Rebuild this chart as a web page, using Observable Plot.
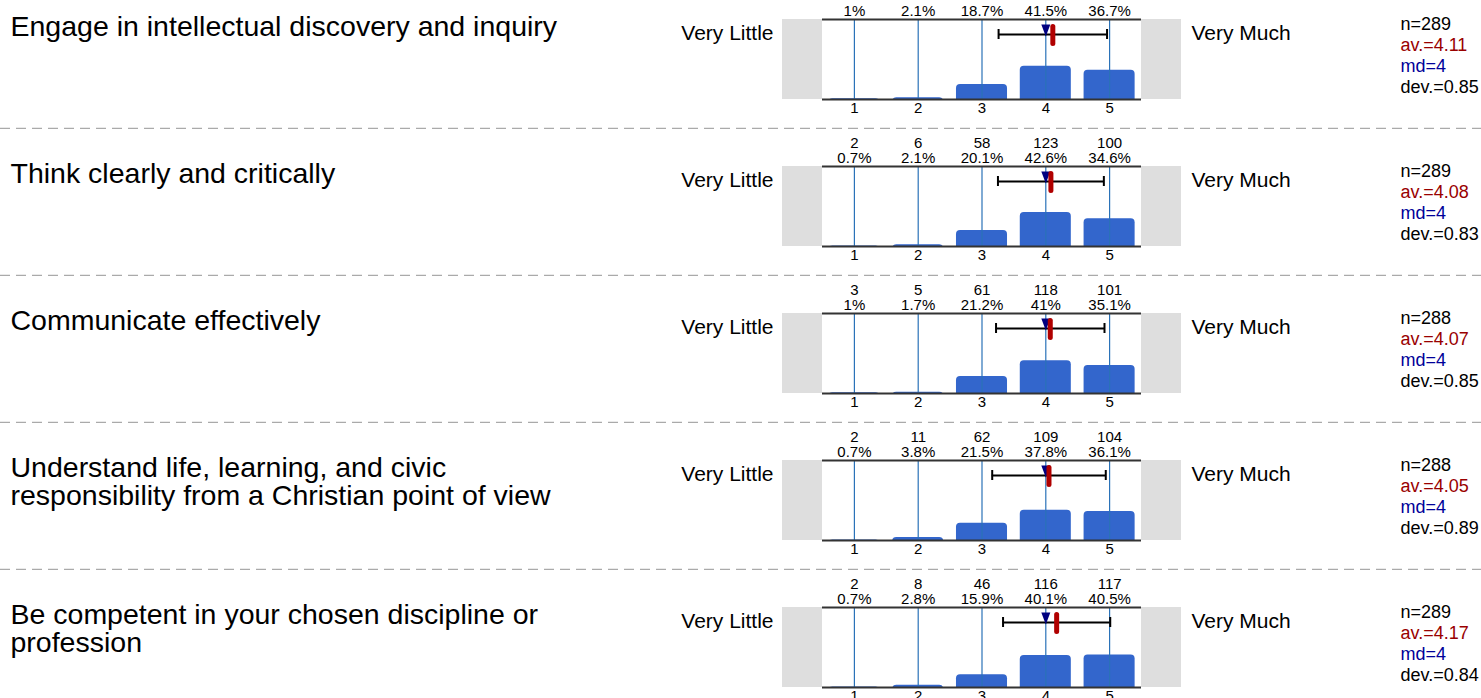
<!DOCTYPE html>
<html>
<head>
<meta charset="utf-8">
<script src="https://cdn.jsdelivr.net/npm/d3@7"></script>
<script src="https://cdn.jsdelivr.net/npm/@observablehq/plot@0.6"></script>
<style>
  html, body { margin: 0; padding: 0; background: #fff; overflow: hidden; }
  #chart { margin-top: -18px; }
  #chart svg { display: block; }
</style>
</head>
<body>
<div id="chart"></div>
<script>
// ---- data ----
const items = [
  "Engage in intellectual discovery and inquiry",
  "Think clearly and critically",
  "Communicate effectively",
  "Understand life, learning, and civic\nresponsibility from a Christian point of view",
  "Be competent in your chosen discipline or\nprofession"
];
const categories = [1, 2, 3, 4, 5];
// first row's counts are cut off in the reference picture
const counts = [
  [null, null, null, null, null],
  [2, 6, 58, 123, 100],
  [3, 5, 61, 118, 101],
  [2, 11, 62, 109, 104],
  [2, 8, 46, 116, 117]
];
const percents = [
  [1, 2.1, 18.7, 41.5, 36.7],
  [0.7, 2.1, 20.1, 42.6, 34.6],
  [1, 1.7, 21.2, 41, 35.1],
  [0.7, 3.8, 21.5, 37.8, 36.1],
  [0.7, 2.8, 15.9, 40.1, 40.5]
];
const nValues = [289, 289, 288, 288, 289];
const averages = [4.11, 4.08, 4.07, 4.05, 4.17];
const medians = [4, 4, 4, 4, 4];
const deviations = [0.85, 0.83, 0.85, 0.89, 0.84];
const leftLabel = "Very Little";
const rightLabel = "Very Much";

// ---- drawing ----
const font = "'Liberation Sans', Arial, sans-serif";
const triangleDown = {
  draw(ctx) {
    ctx.moveTo(-4.5, -6);
    ctx.lineTo(4.5, -6);
    ctx.lineTo(0, 6);
    ctx.closePath();
  }
};

function rowPlot(i) {
  const bars = categories.map((c, j) => ({v: c, count: counts[i][j], pct: percents[i][j]}));
  const stat = {n: nValues[i], av: averages[i], md: medians[i], dev: deviations[i]};
  const caps = [stat.av - stat.dev, stat.av + stat.dev];
  const statLines = [
    {t: `n=${stat.n}`, c: "black"},
    {t: `av.=${stat.av}`, c: "#990000"},
    {t: `md=${stat.md}`, c: "#000099"},
    {t: `dev.=${stat.dev}`, c: "black"}
  ];
  return Plot.plot({
    width: 1481,
    height: 147,
    marginTop: 37,
    marginBottom: 30,
    marginLeft: 0,
    marginRight: 0,
    x: {domain: [0.5, 5.5], range: [822, 1141], axis: null},
    y: {domain: [0, 100], axis: null},
    style: {fontFamily: font, background: "white", color: "black"},
    marks: [
      // grey side boxes
      Plot.rect([0], {x1: 0.5, x2: 0.5, y1: 0, y2: 100, insetLeft: -40, fill: "#dedede"}),
      Plot.rect([0], {x1: 5.5, x2: 5.5, y1: 0, y2: 100, insetRight: -40, fill: "#dedede"}),
      // bars
      Plot.rect(bars, {x1: d => d.v - 0.4, x2: d => d.v + 0.4, y1: -10, y2: "pct", fill: "#3366cc", rx: 4, clip: true}),
      // category rules
      Plot.ruleX(categories, {x: d => d, y1: 0, y2: 100, stroke: "#2a72b8", strokeWidth: 1.2}),
      // top and bottom lines
      Plot.ruleY([0, 100], {x1: 0.5, x2: 5.5, stroke: "#333", strokeWidth: 2}),
      // counts and percents
      Plot.text(bars, {x: "v", frameAnchor: "top", text: d => d.count == null ? `${d.pct}%` : `${d.count}\n${d.pct}%`, lineAnchor: "bottom", lineHeight: 1, dy: -4, fontSize: 15, fill: "black"}),
      // tick labels
      Plot.text(categories, {x: d => d, frameAnchor: "bottom", text: d => String(d), lineAnchor: "top", dy: 3, fontSize: 15, fill: "black"}),
      // error bar (mean ± dev)
      Plot.ruleY([stat], {x1: d => d.av - d.dev, x2: d => d.av + d.dev, y: 81.25, stroke: "black", strokeWidth: 2}),
      Plot.ruleX(caps, {x: d => d, y1: 75, y2: 87.5, stroke: "black", strokeWidth: 2}),
      // median
      Plot.dot([stat], {x: "md", y: 86.25, symbol: triangleDown, fill: "#000080", stroke: null}),
      // mean
      Plot.ruleX([stat], {x: "av", y1: 69.5, y2: 90.5, stroke: "#b00000", strokeWidth: 5, strokeLinecap: "round"}),
      // item label
      Plot.text([items[i]], {frameAnchor: "top-left", dx: 10, dy: -4, text: d => d, lineAnchor: "top", textAnchor: "start", fontSize: 28.5, lineHeight: 1.0, fill: "black"}),
      // scale end labels
      Plot.text([leftLabel], {x: 0.5, y: 82.5, dx: -49, text: d => d, textAnchor: "end", fontSize: 21, fill: "black"}),
      Plot.text([rightLabel], {x: 5.5, y: 82.5, dx: 50, text: d => d, textAnchor: "start", fontSize: 21, fill: "black"}),
      // statistics
      ...statLines.map((s, k) => Plot.text([s.t], {x: 5.5, y: 93.75, dx: 259, dy: k * 21, text: d => d, textAnchor: "start", fontSize: 18, fill: s.c})),
      // dashed separator
      Plot.ruleY([0], {dy: 29, stroke: "#aaaaaa", strokeWidth: 1.5, strokeDasharray: "10,6"})
    ]
  });
}

const chart = document.getElementById("chart");
items.forEach((_, i) => chart.appendChild(rowPlot(i)));
</script>
</body>
</html>
